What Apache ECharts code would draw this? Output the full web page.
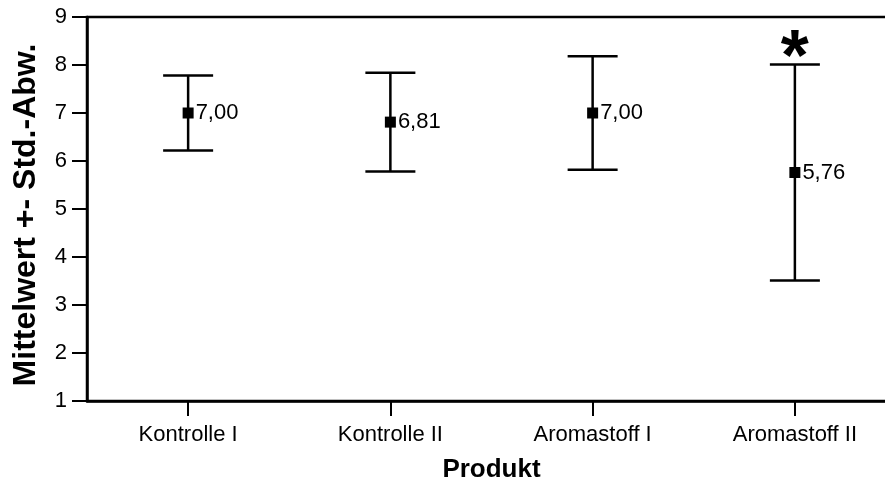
<!DOCTYPE html>
<html>
<head>
<meta charset="utf-8">
<script src="https://cdn.jsdelivr.net/npm/echarts@6/dist/echarts.min.js"></script>
<style>html,body{margin:0;padding:0;background:#fff;overflow:hidden;width:885px;height:482px}#c{width:896px;height:482px}</style>
</head>
<body>
<div id="c"></div>
<script>
var categories = ['Kontrolle I', 'Kontrolle II', 'Aromastoff I', 'Aromastoff II'];
var means = [7.00, 6.81, 7.00, 5.76];
var sds = [0.78, 1.03, 1.18, 2.25];
var marks = ['', '', '', '*'];
var yTicks = [1, 2, 3, 4, 5, 6, 7, 8, 9];

var font = 'Liberation Sans, Arial, sans-serif';
var errData = categories.map(function (c, i) { return [i, means[i] + sds[i], means[i] - sds[i]]; });
var meanData = categories.map(function (c, i) { return [i, means[i]]; });

var chart = echarts.init(document.getElementById('c'), null, { renderer: 'canvas' });
chart.setOption({
  animation: false,
  grid: { left: 87, top: 17, right: 0, bottom: 81, containLabel: false, outerBoundsMode: 'none', show: true, borderColor: '#000', borderWidth: 2.5, backgroundColor: 'transparent' },
  xAxis: {
    type: 'category', data: categories, boundaryGap: true,
    name: 'Produkt', nameLocation: 'middle', nameGap: 56,
    nameTextStyle: { fontFamily: font, fontSize: 26, fontWeight: 'bold', color: '#000' },
    axisLine: { lineStyle: { color: '#000', width: 2.5 } },
    axisTick: { show: true, alignWithLabel: true, length: 15, lineStyle: { color: '#000', width: 2 } },
    axisLabel: { fontFamily: font, fontSize: 22, color: '#000', margin: 23 },
    splitLine: { show: false }
  },
  yAxis: {
    type: 'value', min: yTicks[0], max: yTicks[yTicks.length - 1], interval: 1,
    name: 'Mittelwert +- Std.-Abw.', nameLocation: 'middle', nameGap: 45, nameRotate: 90,
    nameTextStyle: { fontFamily: font, fontSize: 32, fontWeight: 'bold', color: '#000', padding: [0, 12, 0, 0] },
    axisLine: { show: true, lineStyle: { color: '#000', width: 2.5 } },
    axisTick: { show: true, length: 15, lineStyle: { color: '#000', width: 2 } },
    axisLabel: { fontFamily: font, fontSize: 22, color: '#000', margin: 20 },
    splitLine: { show: false }
  },
  series: [
    {
      type: 'custom',
      data: errData,
      encode: { x: 0, y: [1, 2] },
      renderItem: function (params, api) {
        var x = api.value(0);
        var hi = api.coord([x, api.value(1)]);
        var lo = api.coord([x, api.value(2)]);
        var hw = 25;
        var st = { stroke: '#000', lineWidth: 2.5 };
        var children = [
          { type: 'line', shape: { x1: hi[0], y1: hi[1], x2: lo[0], y2: lo[1] }, style: st },
          { type: 'line', shape: { x1: hi[0] - hw, y1: hi[1], x2: hi[0] + hw, y2: hi[1] }, style: st },
          { type: 'line', shape: { x1: lo[0] - hw, y1: lo[1], x2: lo[0] + hw, y2: lo[1] }, style: st }
        ];
        var m = marks[params.dataIndex];
        if (m) {
          children.push({ type: 'text', x: hi[0], y: hi[1] + 32, style: { text: m, font: 'bold 72px ' + font, fill: '#000', align: 'center', verticalAlign: 'bottom' } });
        }
        return { type: 'group', children: children };
      },
      z: 2
    },
    {
      type: 'scatter',
      data: meanData,
      symbol: 'rect', symbolSize: 11,
      itemStyle: { color: '#000', opacity: 1 },
      label: {
        show: true, position: 'right', distance: 2,
        fontFamily: font, fontSize: 22, color: '#000', opacity: 1,
        formatter: function (p) { return p.value[1].toFixed(2).replace('.', ','); }
      },
      z: 3
    }
  ]
});
</script>
</body>
</html>
